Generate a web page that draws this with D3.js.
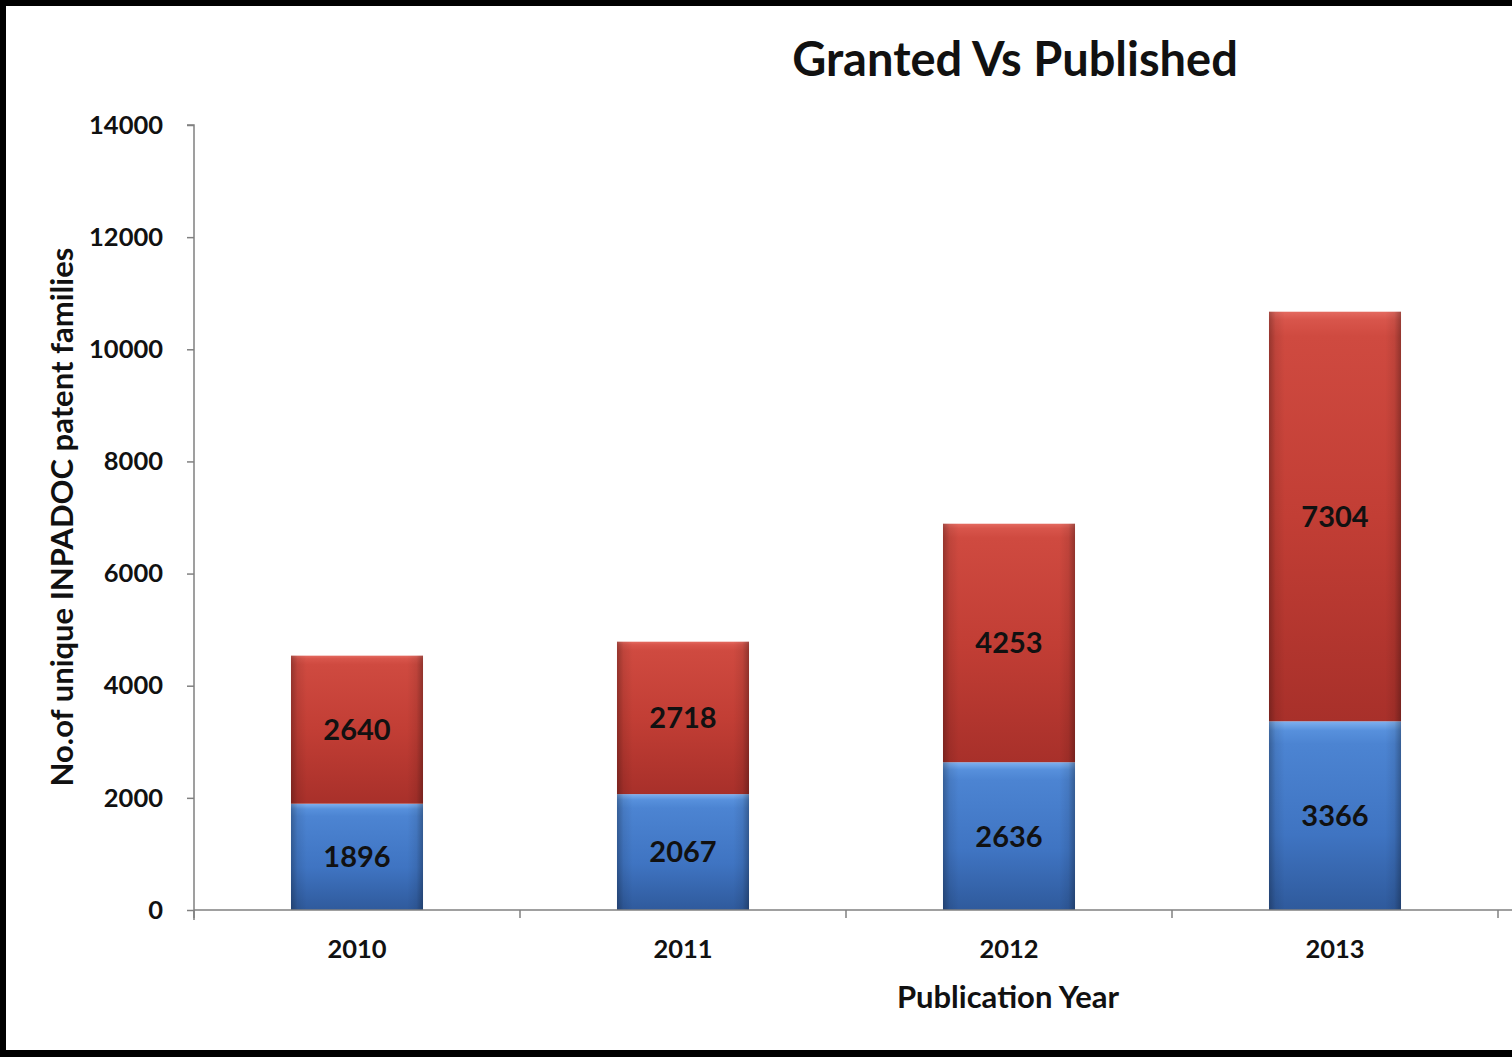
<!DOCTYPE html>
<html>
<head>
<meta charset="utf-8">
<script src="https://cdn.jsdelivr.net/npm/d3@7"></script>
<style>
  html, body { margin: 0; padding: 0; background: #fff; }
  svg { display: block; font-family: Lato, "Open Sans", sans-serif; }
</style>
</head>
<body>
<svg id="chart" width="1512" height="1057"></svg>
<script>
const years = ["2010", "2011", "2012", "2013"];
const granted = [1896, 2067, 2636, 3366];
const published = [2640, 2718, 4253, 7304];
const seriesKeys = ["granted", "published"];
const yTicks = [0, 2000, 4000, 6000, 8000, 10000, 12000, 14000];
const titleText = "Granted Vs Published";
const xTitle = "Publication Year";
const yTitle = "No.of unique INPADOC patent families";

(function () {
const table = years.map((yr, i) => ({ year: yr, granted: granted[i], published: published[i] }));

const svg = d3.select("#chart");
const W = 1512, H = 1057;
const pLeft = 194, pRight = 1498, pTop = 125, pBottom = 910;

const x = d3.scaleBand().domain(years).range([pLeft, pRight]).paddingInner(0.595).paddingOuter(0.2975);
const y = d3.scaleLinear().domain([0, 14000]).range([pBottom, pTop]);

const defs = svg.append("defs");
function vgrad(id, stops) {
  const g = defs.append("linearGradient").attr("id", id).attr("x1", 0).attr("y1", 0).attr("x2", 0).attr("y2", 1);
  stops.forEach(s => g.append("stop").attr("offset", s[0]).attr("stop-color", s[1]));
}
vgrad("g-published", [[0, "#e46a60"], [0.02, "#d8554b"], [0.06, "#cf4a40"], [0.5, "#c23e35"], [1, "#a8302a"]]);
vgrad("g-granted", [[0, "#7fb0ee"], [0.05, "#5790dc"], [0.12, "#4c84d2"], [0.6, "#3f74c2"], [1, "#2f5a9c"]]);
const hg = defs.append("linearGradient").attr("id", "g-edge").attr("x1", 0).attr("y1", 0).attr("x2", 1).attr("y2", 0);
[[0, 0.28], [0.05, 0.08], [0.12, 0], [0.88, 0], [0.95, 0.08], [1, 0.3]].forEach(s =>
  hg.append("stop").attr("offset", s[0]).attr("stop-color", "#000").attr("stop-opacity", s[1]));

const stack = d3.stack().keys(seriesKeys)(table);

const layers = svg.append("g").selectAll("g").data(stack).join("g");
const segs = d => d.map(v => ({ key: d.key, v }));
layers.selectAll("rect.bar").data(segs).join("rect")
  .attr("class", "bar")
  .attr("x", d => x(d.v.data.year))
  .attr("width", x.bandwidth())
  .attr("y", d => y(d.v[1]))
  .attr("height", d => y(d.v[0]) - y(d.v[1]))
  .attr("fill", d => `url(#g-${d.key})`);
layers.selectAll("rect.edge").data(segs).join("rect")
  .attr("class", "edge")
  .attr("x", d => x(d.v.data.year))
  .attr("width", x.bandwidth())
  .attr("y", d => y(d.v[1]))
  .attr("height", d => y(d.v[0]) - y(d.v[1]))
  .attr("fill", "url(#g-edge)");

layers.selectAll("text").data(segs).join("text")
  .attr("x", d => x(d.v.data.year) + x.bandwidth() / 2)
  .attr("y", d => (y(d.v[0]) + y(d.v[1])) / 2)
  .attr("dy", "0.36em")
  .attr("text-anchor", "middle")
  .attr("font-size", 29)
  .attr("font-weight", "bold")
  .attr("fill", "#111")
  .text(d => d.v[1] - d.v[0]);

const yAxis = svg.append("g").attr("transform", `translate(${pLeft},0)`)
  .call(d3.axisLeft(y).tickValues(yTicks).tickSize(7).tickPadding(24).tickFormat(d3.format("d")));
yAxis.select(".domain").attr("d", `M-7,${pTop}H0V${pBottom + 10}`).attr("stroke", "#808080").attr("stroke-width", 1.5);
yAxis.selectAll(".tick line").attr("stroke", "#808080").attr("stroke-width", 1.5);
yAxis.selectAll(".tick text").attr("font-size", 25.5).attr("font-weight", "bold").attr("fill", "#111")
  .attr("font-family", "Lato, sans-serif");

const xAxis = svg.append("g").attr("transform", `translate(0,${pBottom})`)
  .call(d3.axisBottom(x).tickSize(0).tickPadding(30));
xAxis.select(".domain").attr("d", `M${pLeft},0H${W}`).attr("stroke", "#808080").attr("stroke-width", 1.5);
xAxis.selectAll(".tick text").attr("font-size", 25.5).attr("font-weight", "bold").attr("fill", "#111")
  .attr("font-family", "Lato, sans-serif");
const bounds = d3.range(years.length + 1).map(i => pLeft + i * x.step());
xAxis.selectAll("line.bound").data(bounds).join("line").attr("class", "bound")
  .attr("x1", d => d).attr("x2", d => d).attr("y1", 0).attr("y2", 8)
  .attr("stroke", "#808080").attr("stroke-width", 1.5);

svg.append("text").attr("x", 1015).attr("y", 76).attr("text-anchor", "middle")
  .attr("font-size", 47).attr("font-weight", "bold").attr("fill", "#111").text(titleText);
svg.append("text").attr("x", 1008).attr("y", 1008).attr("text-anchor", "middle")
  .attr("font-size", 31).attr("font-weight", "bold").attr("fill", "#111").text(xTitle);
svg.append("text").attr("transform", "translate(73,517) rotate(-90)").attr("text-anchor", "middle")
  .attr("font-size", 31).attr("font-weight", "bold").attr("fill", "#111").text(yTitle);

svg.append("rect").attr("x", 0).attr("y", 0).attr("width", W).attr("height", 6).attr("fill", "#000");
svg.append("rect").attr("x", 0).attr("y", 0).attr("width", 6).attr("height", H).attr("fill", "#000");
svg.append("rect").attr("x", 0).attr("y", 1050).attr("width", W).attr("height", 7).attr("fill", "#000");
})();
</script>
</body>
</html>
